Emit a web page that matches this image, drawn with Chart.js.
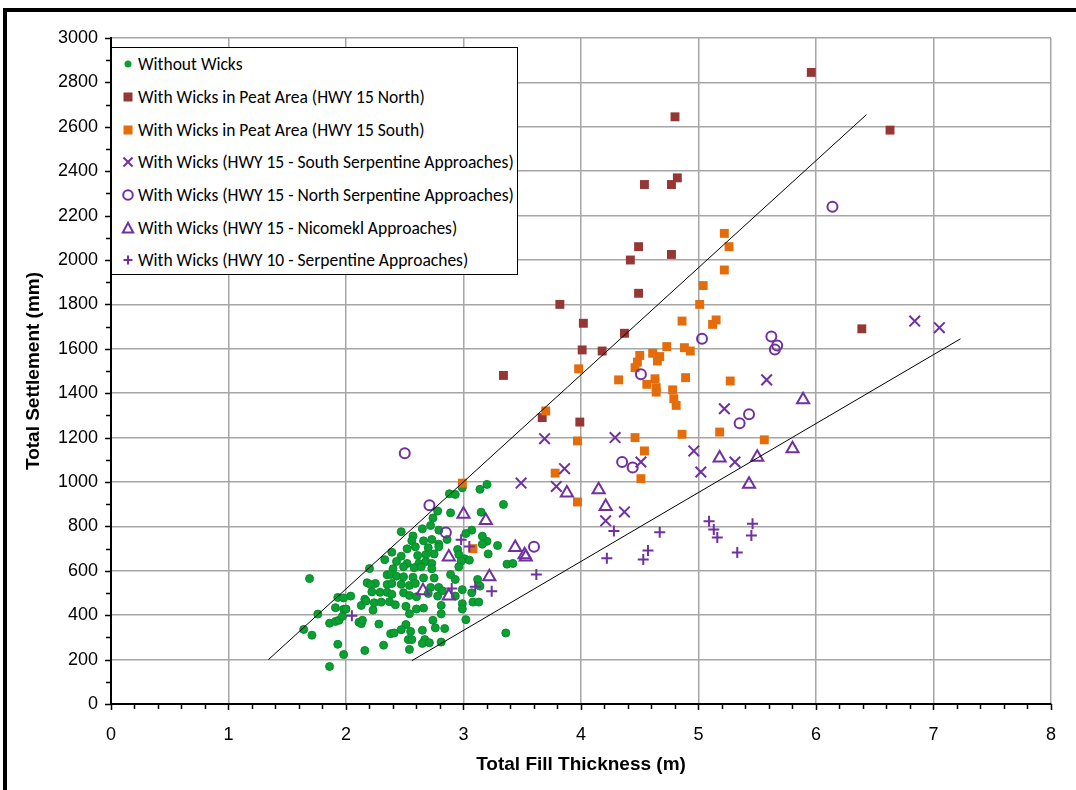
<!DOCTYPE html>
<html><head><meta charset="utf-8">
<script src="https://cdn.jsdelivr.net/npm/chart.js@4.4.1/dist/chart.umd.min.js"></script>
<style>
html,body{margin:0;padding:0;background:#fff;width:1076px;height:790px;overflow:hidden}
#wrap{position:absolute;left:0;top:0;width:1076px;height:790px}
#frame{position:absolute;left:3px;top:8px;width:1100px;height:800px;border-left:4px solid #000;border-top:4px solid #000;pointer-events:none}
#legend{position:absolute;left:111px;top:47px;width:405px;height:226px;border:1.5px solid #000;background:#fff;font-family:Carlito,Lato,"Open Sans",sans-serif;font-size:17.5px;color:#000}
.row{position:absolute;left:0;height:20px;line-height:20px;white-space:nowrap}
.row svg{position:absolute;left:8px;top:2px}
.row span{position:absolute;left:26px;top:0}
</style></head><body>
<div id="wrap"><canvas id="c" width="1076" height="790"></canvas></div>
<div id="frame"></div>
<div id="legend"></div>
<script>
// ---------------- DATA ----------------
const xTickValues = [0,1,2,3,4,5,6,7,8];
const yTickValues = [0,200,400,600,800,1000,1200,1400,1600,1800,2000,2200,2400,2600,2800,3000];
const xTitle = "Total Fill Thickness (m)";
const yTitle = "Total Settlement (mm)";

const seriesNames = [
  "Without Wicks",
  "With Wicks in Peat Area (HWY 15 North)",
  "With Wicks in Peat Area (HWY 15 South)",
  "With Wicks (HWY 15 - South Serpentine Approaches)",
  "With Wicks (HWY 15 - North Serpentine Approaches)",
  "With Wicks (HWY 15 - Nicomekl Approaches)",
  "With Wicks (HWY 10 - Serpentine Approaches)"
];

const withoutWicks = [
  [1.69,565],[2.33,650],[2.20,610],[2.35,582],[2.18,546],[2.25,543],[2.21,538],[2.35,538],[2.22,505],[2.29,503],
  [2.35,503],[2.16,472],[2.24,456],[2.30,459],[2.37,461],[2.23,423],[1.93,480],[1.98,478],[2.04,486],[1.98,427],
  [1.91,434],[2.00,428],[2.13,444],[2.17,464],[1.76,405],[1.86,364],[1.91,372],[1.94,377],[1.97,395],[2.11,368],
  [2.13,362],[2.14,377],[2.28,360],[1.64,336],[1.71,310],[1.93,269],[1.98,223],[1.86,169],[2.16,241],[2.32,265],
  [2.38,317],
  [2.99,974],[3.20,989],[3.14,967],[2.88,947],[2.93,944],[3.34,899],[2.78,869],[2.89,861],[3.15,864],[2.74,838],
  [2.47,776],[2.65,789],[2.72,804],[2.79,783],[3.07,783],[3.02,768],[2.57,757],[2.56,735],[2.66,735],[2.73,741],
  [2.79,720],[2.86,741],[3.20,733],[3.16,720],[2.39,684],[2.52,699],[2.59,708],[2.70,704],[2.79,708],[2.95,696],
  [3.29,714],[3.21,676],[2.47,666],[2.61,669],[2.68,673],[2.75,676],[2.96,673],[3.01,654],[3.05,648],[2.43,642],
  [2.52,633],[2.62,633],[2.68,642],[2.73,633],[2.98,643],[3.37,630],[3.42,633],[2.40,609],[2.49,618],[2.58,614],
  [2.64,618],[2.73,609],[2.96,618],[2.38,583],[2.43,576],[2.49,573],[2.57,571],[2.66,568],[2.75,568],[2.89,583],
  [2.93,561],[3.12,561],[3.14,531],[2.39,543],[2.47,539],[2.54,534],[2.59,543],[2.72,525],[2.79,525],[2.82,510],
  [2.99,515],[2.39,494],[2.49,501],[2.54,489],[2.60,483],[2.70,498],[2.78,486],[2.93,486],[3.08,459],[3.13,459],
  [2.42,447],[2.51,440],[2.60,428],[2.66,432],[2.81,444],[2.99,452],[2.54,407],[2.81,406],[2.99,428],[3.02,380],
  [2.74,377],[2.76,343],[2.84,340],[2.51,358],[2.47,335],[2.55,327],[2.65,332],[2.41,320],[2.53,290],[2.56,290],
  [2.67,290],[2.65,273],[2.71,276],[2.81,279],[2.54,246],[3.36,320],[3.07,501],[3.16,756]
];

const peatNorth = [
  [5.96,2845],[4.80,2645],[6.63,2585],[4.54,2340],[4.77,2340],[4.82,2370],[4.49,2060],[4.42,2000],[4.77,2025],
  [4.49,1850],[3.82,1800],[4.02,1715],[4.37,1670],[4.01,1595],[4.18,1590],[3.34,1480],[3.67,1290],[3.99,1270],[6.39,1690]
];

const peatSouth = [
  [5.22,2120],[5.26,2060],[5.22,1955],[5.04,1885],[5.01,1800],[4.86,1725],[5.15,1730],[5.12,1710],[3.98,1510],[4.50,1570],
  [4.48,1540],[4.46,1515],[4.61,1580],[4.67,1565],[4.65,1545],[4.73,1610],[4.88,1605],[4.93,1590],[4.32,1460],[4.63,1465],
  [4.56,1440],[4.64,1425],[4.64,1405],[4.89,1470],[4.78,1415],[4.79,1375],[4.81,1345],[5.27,1455],[3.70,1320],[3.97,1185],
  [4.46,1200],[4.86,1215],[5.18,1225],[5.56,1190],[4.54,1140],[3.78,1040],[4.51,1015],[3.97,910],[2.99,995],[3.08,700]
];

const southSerpentine = [
  [5.58,1460],[5.22,1330],[3.69,1195],[4.29,1200],[4.96,1140],[4.51,1090],[5.31,1090],[5.02,1045],
  [3.86,1060],[3.49,995],[3.79,980],[4.37,865],[4.21,825],[6.84,1725],[7.05,1695]
];

const northSerpentine = [
  [6.14,2240],[5.03,1645],[5.62,1655],[5.67,1615],[5.65,1597],[4.51,1485],[5.43,1305],
  [5.35,1265],[4.35,1090],[4.44,1065],[3.60,708],[2.50,1130],[2.71,895],[2.85,772]
];

const nicomekl = [
  [5.18,1108],[5.50,1112],[5.80,1150],[5.89,1370],[5.43,990],[3.88,950],[4.15,965],[4.21,890],[3.00,855],
  [3.19,827],[2.875,662],[3.44,705],[3.52,672],[3.53,662],[3.22,573],[2.655,510],[2.875,487]
];

const hwy10Serpentine = [
  [5.09,823],[5.13,786],[5.16,750],[5.46,812],[5.45,759],[4.67,774],[4.28,779],[3.62,583],[4.22,656],
  [4.53,651],[4.57,691],[5.33,682],[2.05,398],[2.98,740],[3.05,710],[2.90,520],[3.10,528],[3.24,508]
];

const upperBoundLine = [[1.34,200],[6.43,2655]];
const lowerBoundLine = [[2.56,195],[7.23,1645]];

// ---------------- STYLE ----------------
const GREEN = '#0aa032', GREEN_B = '#078a2a', BROWN = '#953735', ORANGE = '#e46c0a', PURPLE = '#7030a0';
const toXY = arr => arr.map(p => ({x: p[0], y: p[1]}));

const styles = [
  {data: withoutWicks, pointStyle: 'circle', pointRadius: 4, backgroundColor: GREEN, borderColor: GREEN_B, borderWidth: 1, order: 7, marker: 'dot', color: GREEN},
  {data: peatNorth, pointStyle: 'rect', pointRadius: 6.3, backgroundColor: BROWN, borderColor: BROWN, borderWidth: 0, order: 6, marker: 'rect', color: BROWN},
  {data: peatSouth, pointStyle: 'rect', pointRadius: 6.3, backgroundColor: ORANGE, borderColor: ORANGE, borderWidth: 0, order: 5, marker: 'rect', color: ORANGE},
  {data: southSerpentine, pointStyle: 'crossRot', pointRadius: 7.5, backgroundColor: 'rgba(0,0,0,0)', borderColor: PURPLE, borderWidth: 2, order: 4, marker: 'x', color: PURPLE},
  {data: northSerpentine, pointStyle: 'circle', pointRadius: 5, backgroundColor: 'rgba(0,0,0,0)', borderColor: PURPLE, borderWidth: 2, order: 3, marker: 'o', color: PURPLE},
  {data: nicomekl, pointStyle: 'triangle', pointRadius: 7, backgroundColor: 'rgba(0,0,0,0)', borderColor: PURPLE, borderWidth: 2, order: 2, marker: 'tri', color: PURPLE},
  {data: hwy10Serpentine, pointStyle: 'cross', pointRadius: 5.5, backgroundColor: 'rgba(0,0,0,0)', borderColor: PURPLE, borderWidth: 2, order: 1, marker: '+', color: PURPLE}
];

const datasets = styles.map((s, i) => ({
  type: 'scatter', label: seriesNames[i], data: toXY(s.data),
  pointStyle: s.pointStyle, pointRadius: s.pointRadius, pointHoverRadius: s.pointRadius,
  backgroundColor: s.backgroundColor, borderColor: s.borderColor, borderWidth: s.borderWidth,
  showLine: false, order: s.order
}));
[upperBoundLine, lowerBoundLine].forEach((ln, i) => datasets.push({
  type: 'line', label: 'bound' + i, data: toXY(ln), borderColor: '#000', borderWidth: 1,
  pointRadius: 0, fill: false, tension: 0, order: 0
}));

const minorTicks = {
  id: 'minorTicks',
  afterDraw(chart) {
    const {ctx} = chart; const xs = chart.scales.x, ys = chart.scales.y;
    const ca = chart.chartArea;
    ctx.save(); ctx.strokeStyle = '#000'; ctx.lineWidth = 1.5;
    ctx.beginPath();
    for (let i = 0; i <= 40; i++) {
      const v = i * 0.2; const px = Math.round(xs.getPixelForValue(v)) + 0.5;
      const len = (i % 5 === 0) ? 6 : 5;
      ctx.moveTo(px, ca.bottom); ctx.lineTo(px, ca.bottom + len);
    }
    for (let i = 0; i <= 30; i++) {
      const v = i * 100; const py = Math.round(ys.getPixelForValue(v)) + 0.5;
      const len = (i % 2 === 0) ? 6 : 5;
      ctx.moveTo(ca.left, py); ctx.lineTo(ca.left - len, py);
    }
    ctx.stroke(); ctx.restore();
  }
};

const tickFont = {family: "'Liberation Sans', Arial, sans-serif", size: 18};
const titleFont = {family: "'Liberation Sans', Arial, sans-serif", size: 19, weight: 'bold'};

new Chart(document.getElementById('c'), {
  data: {datasets},
  options: {
    responsive: false, animation: false, events: [],
    layout: {padding: {top: 38, right: 21, bottom: 0, left: 0}},
    plugins: {legend: {display: false}, tooltip: {enabled: false}},
    scales: {
      x: {
        type: 'linear', min: 0, max: 8,
        afterBuildTicks: s => { s.ticks = xTickValues.map(v => ({value: v})); },
        afterFit: s => { s.height = 86; },
        grid: {color: '#a6a6a6', lineWidth: 1.5, drawTicks: false},
        border: {color: '#000', width: 2},
        ticks: {font: tickFont, color: '#000', padding: 20, maxRotation: 0, callback: v => String(v)},
        title: {display: true, text: xTitle, font: titleFont, color: '#000', padding: {top: 0, bottom: 14}}
      },
      y: {
        type: 'linear', min: 0, max: 3000,
        afterBuildTicks: s => { s.ticks = yTickValues.map(v => ({value: v})); },
        afterFit: s => { s.width = 111; },
        grid: {color: '#a6a6a6', lineWidth: 1.5, drawTicks: false},
        border: {color: '#000', width: 2},
        ticks: {font: tickFont, color: '#000', padding: 13, callback: v => String(v)},
        title: {display: true, text: yTitle, font: titleFont, color: '#000', padding: {top: 22, bottom: 0}}
      }
    }
  },
  plugins: [minorTicks]
});

// ---------------- HTML LEGEND ----------------
function markerSVG(type, color) {
  let inner = '';
  if (type === 'dot') inner = `<circle cx="8" cy="8" r="3.5" fill="${color}"/>`;
  else if (type === 'rect') inner = `<rect x="3.5" y="3.5" width="9" height="9" fill="${color}"/>`;
  else if (type === 'x') inner = `<path d="M3.5 3.5 L12.5 12.5 M12.5 3.5 L3.5 12.5" stroke="${color}" stroke-width="2" fill="none"/>`;
  else if (type === 'o') inner = `<circle cx="8" cy="8" r="4.8" stroke="${color}" stroke-width="2" fill="none"/>`;
  else if (type === 'tri') inner = `<path d="M8 2.8 L13.2 12.5 L2.8 12.5 Z" stroke="${color}" stroke-width="2" fill="none"/>`;
  else if (type === '+') inner = `<path d="M8 3.5 L8 12.5 M3.5 8 L12.5 8" stroke="${color}" stroke-width="2" fill="none"/>`;
  return `<svg width="16" height="16" viewBox="0 0 16 16">${inner}</svg>`;
}
const legend = document.getElementById('legend');
seriesNames.forEach((name, i) => {
  const row = document.createElement('div');
  row.className = 'row';
  row.style.top = (16.3 + i * 32.67 - 10) + 'px';
  row.innerHTML = markerSVG(styles[i].marker, styles[i].color) + `<span>${name}</span>`;
  legend.appendChild(row);
});
</script>
</body></html>
